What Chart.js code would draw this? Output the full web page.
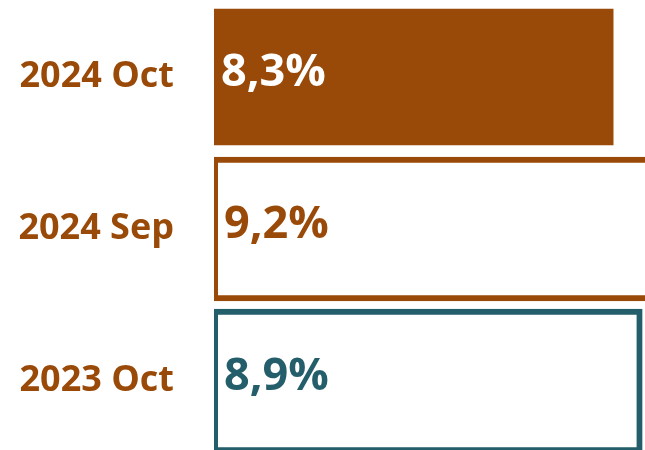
<!DOCTYPE html>
<html>
<head>
<meta charset="utf-8">
<script src="https://cdn.jsdelivr.net/npm/chart.js@4/dist/chart.umd.min.js"></script>
<style>
  html, body { margin: 0; padding: 0; background: #fff; overflow: hidden; }
</style>
</head>
<body>
<canvas id="myChart" width="645" height="457"></canvas>
<script>
// data
const categories = ['2024 Oct', '2024 Sep', '2023 Oct']
const rates = [8.3, 9.2, 8.9]

// colours
const brown = '#9A4A08'
const teal = '#255E6B'
const fillColors = [brown, 'rgba(0,0,0,0)', 'rgba(0,0,0,0)']
const lineColors = ['rgba(0,0,0,0)', brown, teal]
const labelColors = ['#ffffff', brown, teal]

// value labels inside the bars (no datalabels plugin offline)
const valueLabels = {
    id: 'valueLabels',
    afterDatasetsDraw(chart) {
        const ctx = chart.ctx
        const meta = chart.getDatasetMeta(0)
        ctx.save()
        ctx.font = 'bold 45px "Open Sans"'
        ctx.textAlign = 'left'
        ctx.textBaseline = 'alphabetic'
        meta.data.forEach((bar, i) => {
            const txt = rates[i].toFixed(1).replace('.', ',') + '%'
            ctx.fillStyle = labelColors[i]
            ctx.fillText(txt, bar.base + (i === 0 ? 7 : 10), bar.y + 9)
        })
        ctx.restore()
    }
}

// config
const config = {
    type: 'bar',
    data: {
        labels: categories,
        datasets: [{
            data: rates,
            backgroundColor: fillColors,
            borderColor: lineColors,
            borderWidth: (c) => c.dataIndex === 0
                ? {top: 4, bottom: 4, left: 0, right: 0}
                : {top: 6, bottom: 6, left: 4, right: 6},
            borderSkipped: false,
            categoryPercentage: 1,
            barPercentage: 0.952,
        }]
    },
    plugins: [valueLabels],
    options: {
        indexAxis: 'y',
        responsive: false,
        animation: false,
        layout: { padding: { top: 1, right: 0, bottom: 0, left: 0 } },
        plugins: {
            legend: { display: false },
            tooltip: { enabled: false },
        },
        scales: {
            x: {
                display: false,
                min: 0,
                max: 8.95,
            },
            y: {
                grid: { display: false },
                border: { display: false },
                ticks: {
                    color: brown,
                    padding: 32,
                    font: { family: '"Open Sans"', size: 36, weight: 'bold' },
                },
                afterFit: (scale) => {
                    scale.width = 214
                    //labels would otherwise eat space top/bottom
                    scale.paddingTop = 0
                    scale.paddingBottom = 0
                },
            }
        }
    }
}

// render
const myChart = new Chart(document.getElementById('myChart'), config)
</script>
</body>
</html>
